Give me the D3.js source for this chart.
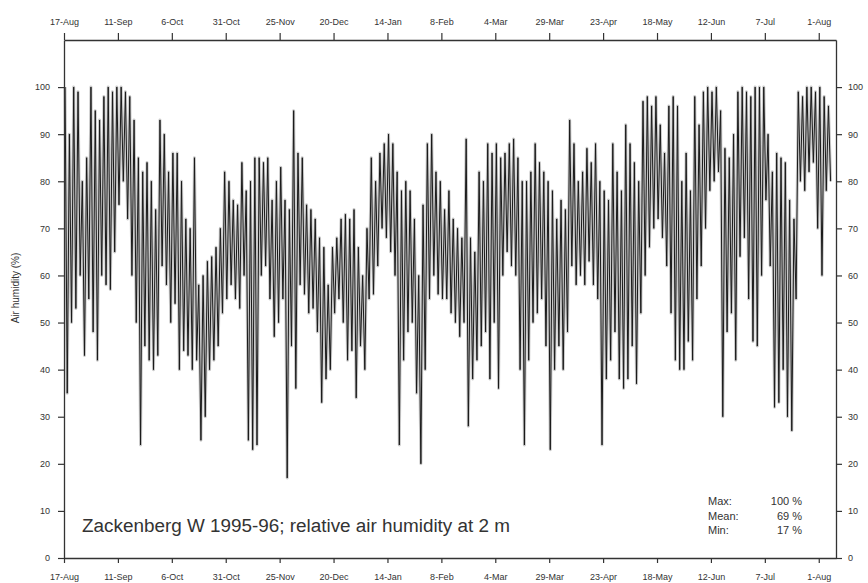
<!DOCTYPE html>
<html>
<head>
<meta charset="utf-8">
<script src="https://cdn.jsdelivr.net/npm/d3@7"></script>
<style>
  body { margin: 0; background: #fff; }
  svg { display: block; }
  text { font-family: "Liberation Sans", Arial, sans-serif; fill: #333; }
</style>
</head>
<body>
<div id="chart"></div>
<script>
// period covered by the record
const startDate = "1995-08-17";
const endDate = "1996-08-09";

// tick labels on the time axes (every 25 days)
const tickDates = ["1995-08-17", "1995-09-11", "1995-10-06", "1995-10-31", "1995-11-25",
  "1995-12-20", "1996-01-14", "1996-02-08", "1996-03-04", "1996-03-29",
  "1996-04-23", "1996-05-18", "1996-06-12", "1996-07-07", "1996-08-01"];
const yTicks = [0, 10, 20, 30, 40, 50, 60, 70, 80, 90, 100];

// relative humidity (%), high and low of each 2-day block
const binDays = 2;
const hi = [100, 90, 100, 99, 80, 85, 100, 95, 93, 98,
  100, 99, 100, 100, 99, 98, 93, 85, 82, 84,
  80, 74, 93, 90, 82, 86, 86, 80, 72, 70,
  85, 58, 60, 63, 64, 66, 70, 82, 80, 76,
  75, 84, 78, 80, 85, 85, 84, 85, 76, 80,
  83, 76, 74, 95, 86, 85, 75, 74, 72, 68,
  66, 58, 66, 68, 72, 73, 72, 74, 66, 60,
  70, 85, 80, 86, 88, 90, 88, 82, 78, 80,
  78, 72, 60, 75, 88, 90, 82, 80, 74, 78,
  72, 70, 68, 89, 68, 65, 82, 80, 88, 86,
  88, 85, 86, 88, 89, 85, 80, 80, 82, 88,
  84, 82, 80, 78, 72, 76, 74, 93, 88, 80,
  82, 87, 84, 88, 80, 78, 76, 88, 82, 78,
  92, 88, 84, 80, 97, 98, 96, 98, 92, 86,
  96, 98, 96, 80, 86, 78, 98, 92, 99, 100,
  99, 100, 95, 87, 85, 90, 99, 100, 99, 98,
  100, 100, 100, 90, 82, 86, 85, 84, 76, 72,
  99, 98, 100, 100, 99, 100, 98, 96];
const lo = [35, 50, 53, 60, 43, 55, 48, 42, 60, 58,
  57, 65, 75, 80, 72, 60, 50, 24, 45, 42,
  40, 43, 62, 58, 50, 54, 40, 44, 43, 40,
  42, 25, 30, 40, 42, 45, 52, 55, 58, 55,
  53, 60, 25, 23, 24, 60, 62, 55, 47, 50,
  55, 17, 45, 36, 58, 56, 52, 53, 48, 33,
  38, 40, 52, 55, 50, 42, 44, 34, 45, 40,
  55, 56, 62, 70, 68, 65, 60, 24, 42, 48,
  50, 35, 20, 40, 55, 60, 56, 55, 55, 52,
  50, 47, 50, 28, 38, 42, 45, 48, 38, 50,
  36, 60, 65, 62, 60, 40, 24, 42, 50, 52,
  55, 45, 23, 40, 45, 40, 48, 62, 58, 60,
  58, 63, 58, 55, 24, 38, 42, 48, 38, 36,
  38, 45, 37, 52, 60, 66, 70, 72, 68, 62,
  52, 42, 40, 40, 46, 42, 55, 62, 70, 78,
  80, 82, 30, 48, 52, 42, 64, 68, 55, 46,
  45, 60, 76, 62, 32, 33, 40, 30, 27, 55,
  80, 78, 82, 84, 70, 60, 78, 80];

const stats = [["Max:", "100 %"], ["Mean:", "69 %"], ["Min:", "17 %"]];
const title = "Zackenberg W 1995-96; relative air humidity at 2 m";

const width = 868;
const height = 583;
const parse = d3.timeParse("%Y-%m-%d");
const fmt = d3.timeFormat("%-d-%b");

const svg = d3.select("#chart")
  .append("svg")
  .attr("width", width)
  .attr("height", height);

const x = d3.scaleTime()
  .domain([parse(startDate), parse(endDate)])
  .range([64, 836]);
const y = d3.scaleLinear()
  .domain([0, 110])
  .range([558, 40]);

// zig-zag through the block highs and lows
const points = [];
hi.forEach((v, i) => {
  points.push({ date: d3.timeHour.offset(parse(startDate), (i * binDays + 0.5) * 24), v: v });
  points.push({ date: d3.timeHour.offset(parse(startDate), (i * binDays + 1.5) * 24), v: lo[i] });
});

const line = d3.line()
  .x(d => x(d.date))
  .y(d => y(d.v));

// soft grey halo, then the dark trace
svg.append("path")
  .datum(points)
  .attr("fill", "none")
  .attr("stroke", "#888")
  .attr("stroke-opacity", 0.45)
  .attr("stroke-width", 3)
  .attr("stroke-linejoin", "round")
  .attr("d", line);

svg.append("path")
  .datum(points)
  .attr("fill", "none")
  .attr("stroke", "#1a1a1a")
  .attr("stroke-width", 1)
  .attr("d", line);

// axes on all four sides
const ticks = tickDates.map(parse);

function styleAxis(g) {
  g.selectAll(".domain").attr("stroke", "#333").attr("stroke-width", 1.3);
  g.selectAll(".tick line").attr("stroke", "#333").attr("stroke-width", 1.2);
  g.selectAll(".tick text").attr("font-size", 9).attr("fill", "#333")
    .attr("font-family", "\"Liberation Sans\", Arial, sans-serif");
}

svg.append("g")
  .attr("transform", "translate(0,558)")
  .call(d3.axisBottom(x).tickValues(ticks).tickFormat(fmt).tickSizeInner(5).tickSizeOuter(0).tickPadding(11))
  .call(styleAxis);

svg.append("g")
  .attr("transform", "translate(0,40)")
  .call(d3.axisTop(x).tickValues(ticks).tickFormat(fmt).tickSizeInner(7).tickSizeOuter(0).tickPadding(8))
  .call(styleAxis);

svg.append("g")
  .attr("transform", "translate(64,0)")
  .call(d3.axisLeft(y).tickValues(yTicks).tickSizeInner(6).tickSizeOuter(0).tickPadding(8))
  .call(styleAxis);

svg.append("g")
  .attr("transform", "translate(836,0)")
  .call(d3.axisRight(y).tickValues(yTicks).tickSizeInner(6).tickSizeOuter(0).tickPadding(6))
  .call(styleAxis);

svg.append("text")
  .attr("transform", "translate(19,288) rotate(-90)")
  .attr("text-anchor", "middle")
  .attr("font-size", 10)
  .text("Air humidity  (%)");

svg.append("text")
  .attr("x", 82)
  .attr("y", 532)
  .attr("font-size", 18)
  .attr("textLength", 428)
  .attr("lengthAdjust", "spacingAndGlyphs")
  .text(title);

const st = svg.append("g");
stats.forEach((s, i) => {
  st.append("text")
    .attr("x", 708)
    .attr("y", 505 + i * 14.5)
    .attr("font-size", 11)
    .text(s[0]);
  st.append("text")
    .attr("x", 802)
    .attr("y", 505 + i * 14.5)
    .attr("font-size", 11)
    .attr("text-anchor", "end")
    .text(s[1]);
});
</script>
</body>
</html>
